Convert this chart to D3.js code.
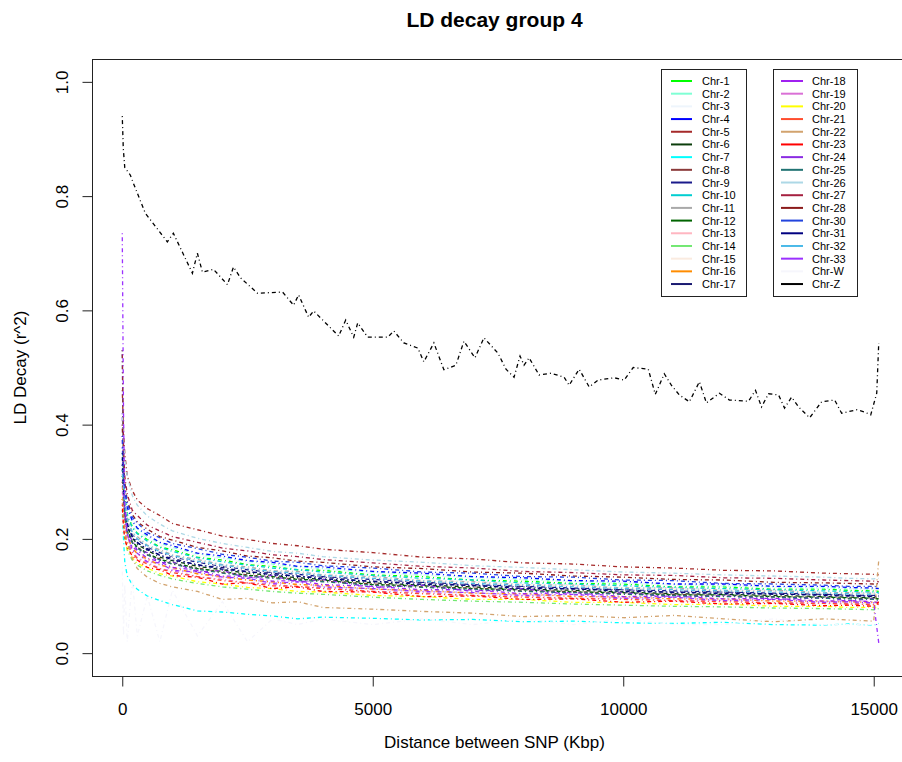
<!DOCTYPE html>
<html>
<head>
<meta charset="utf-8">
<script src="https://cdn.jsdelivr.net/npm/d3@7"></script>
<style>
  html, body { margin: 0; padding: 0; background: #fff; }
  text { font-family: "Liberation Sans", Arial, sans-serif; fill: #000; }
</style>
</head>
<body>
<svg id="chart" width="902" height="762"></svg>
<script>
// ---------------- DATA ----------------
const chartTitle = "LD decay group 4";
const xLabel = "Distance between SNP (Kbp)";
const yLabel = "LD Decay (r^2)";
const xTicks = [0, 5000, 10000, 15000];
const yTicks = [0, 0.2, 0.4, 0.6, 0.8, 1.0];
const yTickLabels = ["0.0", "0.2", "0.4", "0.6", "0.8", "1.0"];

// shared distance grid (Kbp) for chromosomes 1..33, W
const distanceKbp = [0, 25, 50, 100, 200, 300, 500, 750, 1000, 1500, 2000, 2500, 3000, 3500, 4000,
  5000, 6000, 7000, 8000, 9000, 10000, 11000, 12000, 13000, 14000, 14500, 15000, 15100];

const chr1  = [0.35,0.31,0.275,0.243,0.222,0.210,0.199,0.186,0.181,0.168,0.163,0.155,0.152,0.146,0.145,0.137,0.134,0.128,0.126,0.122,0.121,0.116,0.116,0.112,0.112,0.110,0.109,0.108];
const chr2  = [0.34,0.31,0.28,0.252,0.229,0.218,0.204,0.193,0.185,0.174,0.167,0.161,0.156,0.151,0.148,0.142,0.137,0.133,0.129,0.126,0.123,0.120,0.118,0.116,0.114,0.113,0.112,0.114];
const chr3  = [0.36,0.31,0.28,0.246,0.225,0.213,0.201,0.190,0.183,0.171,0.165,0.158,0.154,0.149,0.147,0.140,0.136,0.131,0.128,0.125,0.123,0.119,0.118,0.115,0.114,0.113,0.112,0.111];
const chr4  = [0.36,0.32,0.285,0.255,0.232,0.219,0.207,0.194,0.188,0.175,0.170,0.162,0.159,0.152,0.151,0.143,0.140,0.134,0.132,0.127,0.126,0.121,0.121,0.117,0.117,0.115,0.114,0.113];
const chr5  = [0.46,0.39,0.35,0.31,0.285,0.268,0.253,0.241,0.227,0.216,0.205,0.199,0.192,0.188,0.182,0.176,0.168,0.165,0.158,0.156,0.151,0.149,0.145,0.144,0.140,0.139,0.138,0.137];
const chr6  = [0.32,0.28,0.25,0.221,0.202,0.190,0.180,0.168,0.162,0.152,0.146,0.140,0.136,0.132,0.129,0.123,0.119,0.116,0.112,0.110,0.107,0.104,0.103,0.101,0.099,0.098,0.097,0.098];
const chr7  = [0.25,0.20,0.16,0.135,0.120,0.112,0.100,0.092,0.085,0.074,0.072,0.068,0.065,0.060,0.063,0.061,0.058,0.059,0.055,0.056,0.053,0.052,0.054,0.050,0.049,0.051,0.049,0.052];
const chr8  = [0.30,0.27,0.24,0.213,0.194,0.186,0.172,0.165,0.156,0.149,0.141,0.137,0.132,0.130,0.126,0.121,0.116,0.114,0.109,0.108,0.104,0.103,0.100,0.099,0.097,0.096,0.095,0.094];
const chr9  = [0.33,0.29,0.26,0.231,0.209,0.199,0.186,0.176,0.169,0.159,0.152,0.146,0.141,0.138,0.134,0.129,0.124,0.120,0.117,0.114,0.111,0.109,0.107,0.105,0.103,0.102,0.101,0.100];
const chr10 = [0.33,0.30,0.27,0.240,0.219,0.209,0.196,0.185,0.178,0.167,0.160,0.154,0.149,0.146,0.142,0.136,0.131,0.128,0.123,0.121,0.118,0.115,0.113,0.111,0.109,0.108,0.107,0.106];
const chr11 = [0.34,0.30,0.265,0.236,0.212,0.204,0.189,0.181,0.172,0.164,0.155,0.151,0.144,0.143,0.137,0.134,0.127,0.125,0.120,0.119,0.114,0.114,0.110,0.110,0.106,0.106,0.105,0.104];
const chr12 = [0.31,0.28,0.24,0.215,0.196,0.185,0.175,0.164,0.159,0.148,0.143,0.136,0.134,0.129,0.128,0.120,0.118,0.113,0.111,0.107,0.106,0.102,0.102,0.099,0.098,0.097,0.096,0.095];
const chr13 = [0.28,0.25,0.22,0.202,0.183,0.174,0.162,0.155,0.147,0.139,0.132,0.128,0.123,0.121,0.117,0.112,0.108,0.105,0.102,0.100,0.097,0.095,0.093,0.092,0.090,0.089,0.088,0.089];
const chr14 = [0.25,0.23,0.20,0.180,0.163,0.154,0.144,0.136,0.130,0.122,0.116,0.112,0.108,0.105,0.103,0.098,0.094,0.091,0.089,0.086,0.084,0.082,0.081,0.079,0.078,0.077,0.076,0.078];
const chr15 = [0.33,0.29,0.26,0.233,0.210,0.201,0.187,0.179,0.170,0.162,0.153,0.149,0.143,0.141,0.136,0.132,0.126,0.124,0.119,0.118,0.113,0.112,0.109,0.108,0.105,0.104,0.104,0.103];
const chr16 = [0.30,0.26,0.23,0.204,0.185,0.174,0.165,0.154,0.150,0.139,0.134,0.128,0.125,0.120,0.119,0.112,0.110,0.105,0.104,0.099,0.099,0.095,0.095,0.091,0.091,0.090,0.089,0.088];
const chr17 = [0.33,0.29,0.252,0.226,0.205,0.193,0.183,0.171,0.166,0.154,0.150,0.142,0.140,0.134,0.133,0.125,0.123,0.118,0.116,0.112,0.111,0.106,0.107,0.103,0.103,0.101,0.100,0.099];
const chr18 = [0.38,0.29,0.24,0.205,0.186,0.180,0.166,0.160,0.150,0.145,0.135,0.134,0.126,0.127,0.120,0.117,0.111,0.111,0.104,0.106,0.099,0.100,0.095,0.096,0.091,0.092,0.090,0.088];
const chr19 = [0.29,0.25,0.22,0.195,0.178,0.167,0.159,0.148,0.144,0.134,0.129,0.123,0.121,0.116,0.115,0.108,0.106,0.101,0.100,0.096,0.096,0.092,0.092,0.088,0.088,0.087,0.086,0.085];
const chr20 = [0.27,0.24,0.21,0.183,0.167,0.157,0.149,0.139,0.135,0.125,0.121,0.115,0.113,0.108,0.107,0.101,0.099,0.094,0.094,0.089,0.089,0.085,0.086,0.082,0.082,0.080,0.080,0.079];
const chr21 = [0.27,0.24,0.21,0.190,0.176,0.165,0.156,0.148,0.141,0.134,0.127,0.123,0.118,0.117,0.113,0.108,0.104,0.101,0.098,0.096,0.094,0.092,0.090,0.088,0.087,0.086,0.085,0.086];
const chr22 = [0.27,0.23,0.21,0.195,0.165,0.148,0.133,0.122,0.116,0.108,0.094,0.096,0.088,0.090,0.080,0.077,0.073,0.070,0.064,0.066,0.062,0.066,0.060,0.055,0.060,0.058,0.056,0.163];
const chr23 = [0.26,0.22,0.20,0.185,0.170,0.163,0.150,0.146,0.136,0.133,0.121,0.123,0.113,0.116,0.108,0.107,0.099,0.100,0.094,0.095,0.089,0.091,0.086,0.087,0.083,0.084,0.082,0.090];
const chr24 = [0.42,0.30,0.25,0.208,0.198,0.180,0.176,0.158,0.160,0.142,0.145,0.131,0.136,0.124,0.129,0.115,0.119,0.108,0.113,0.102,0.106,0.098,0.101,0.094,0.097,0.092,0.095,0.090];
const chr25 = [0.53,0.30,0.24,0.213,0.193,0.184,0.172,0.163,0.156,0.147,0.140,0.135,0.131,0.128,0.125,0.119,0.115,0.112,0.108,0.106,0.103,0.101,0.099,0.098,0.096,0.095,0.094,0.093];
const chr26 = [0.42,0.37,0.34,0.31,0.276,0.259,0.240,0.226,0.214,0.201,0.192,0.185,0.178,0.175,0.169,0.163,0.159,0.153,0.150,0.146,0.142,0.140,0.137,0.135,0.133,0.131,0.130,0.131];
const chr27 = [0.53,0.36,0.31,0.278,0.250,0.241,0.224,0.214,0.204,0.194,0.184,0.179,0.172,0.169,0.164,0.158,0.152,0.149,0.143,0.141,0.137,0.136,0.132,0.131,0.128,0.127,0.126,0.125];
const chr28 = [0.40,0.33,0.30,0.266,0.243,0.230,0.217,0.204,0.198,0.185,0.179,0.170,0.167,0.161,0.159,0.151,0.148,0.142,0.140,0.135,0.133,0.129,0.128,0.124,0.123,0.122,0.121,0.122];
const chr30 = [0.38,0.32,0.29,0.262,0.238,0.228,0.211,0.202,0.192,0.183,0.173,0.168,0.161,0.159,0.153,0.149,0.142,0.140,0.134,0.133,0.128,0.127,0.122,0.121,0.119,0.117,0.117,0.116];
const chr31 = [0.35,0.28,0.25,0.224,0.203,0.194,0.181,0.172,0.163,0.155,0.147,0.143,0.137,0.135,0.130,0.126,0.120,0.119,0.113,0.113,0.108,0.107,0.104,0.104,0.101,0.100,0.099,0.098];
const chr32 = [0.32,0.29,0.26,0.232,0.211,0.200,0.188,0.178,0.171,0.161,0.154,0.148,0.143,0.140,0.136,0.131,0.126,0.122,0.119,0.116,0.113,0.111,0.109,0.107,0.105,0.104,0.103,0.105];
const chr33 = [0.735,0.42,0.26,0.210,0.180,0.175,0.160,0.158,0.145,0.142,0.133,0.131,0.122,0.125,0.116,0.113,0.108,0.106,0.101,0.103,0.096,0.098,0.092,0.094,0.089,0.090,0.088,0.018];
const chrW  = [0.15,0.03,0.12,0.02,0.13,0.03,0.10,0.02,0.11,0.03,0.09,0.02,0.06,0.05,0.06,0.05,0.06,0.05,0.06,0.05,0.06,0.05,0.05,0.06,0.05,0.05,0.05,0.05];

// Chr-Z has its own distance points
const distanceZ = [0,20,50,160,220,460,900,1020,1400,1500,1600,1820,2100,2220,2360,2700,3200,3420,3520,3720,3820,
  4320,4460,4620,4700,4900,5300,5420,5620,5900,6020,6220,6420,6660,6820,7040,7220,7500,7660,7820,7940,8020,8120,
  8320,8560,8820,8920,9120,9320,9500,9820,10020,10200,10500,10640,10820,10960,11120,11320,11520,11660,11920,12120,
  12500,12640,12760,12900,13100,13220,13360,13500,13720,13960,14220,14360,14660,14820,14940,15060,15100];
const chrZ = [0.94,0.884,0.85,0.837,0.823,0.77,0.72,0.735,0.665,0.70,0.667,0.672,0.645,0.676,0.657,0.63,0.632,0.609,0.627,0.588,0.599,
  0.555,0.583,0.553,0.578,0.553,0.553,0.564,0.543,0.534,0.51,0.543,0.496,0.504,0.546,0.517,0.552,0.525,0.497,0.483,0.52,0.504,0.517,
  0.487,0.49,0.483,0.469,0.497,0.466,0.478,0.482,0.478,0.50,0.497,0.453,0.489,0.469,0.452,0.44,0.475,0.438,0.455,0.443,
  0.441,0.46,0.431,0.454,0.452,0.429,0.448,0.431,0.412,0.44,0.443,0.42,0.426,0.422,0.417,0.455,0.543];

const chrNames = ["Chr-1","Chr-2","Chr-3","Chr-4","Chr-5","Chr-6","Chr-7","Chr-8","Chr-9","Chr-10","Chr-11",
  "Chr-12","Chr-13","Chr-14","Chr-15","Chr-16","Chr-17","Chr-18","Chr-19","Chr-20","Chr-21","Chr-22","Chr-23",
  "Chr-24","Chr-25","Chr-26","Chr-27","Chr-28","Chr-30","Chr-31","Chr-32","Chr-33","Chr-W","Chr-Z"];
const chrColors = ["#00FF00","#7FFFD4","#EEF5FC","#0000FF","#A52A2A","#0B3D0B","#00FFFF","#8B3A3A","#1A1A8B","#00CED1","#A9A9A9",
  "#006400","#FFB6C1","#72E872","#FAEBE0","#FF8C00","#191970","#A020F0","#DA70D6","#FFFF00","#FF4D2E","#D2A36E","#FF0000",
  "#8A2BE2","#217373","#ADD8E6","#A52040","#8B1A1A","#2244DD","#000080","#4AB9E8","#9B30FF","#F6F6FC","#000000"];
const chrValues = [chr1,chr2,chr3,chr4,chr5,chr6,chr7,chr8,chr9,chr10,chr11,chr12,chr13,chr14,chr15,chr16,chr17,
  chr18,chr19,chr20,chr21,chr22,chr23,chr24,chr25,chr26,chr27,chr28,chr30,chr31,chr32,chr33,chrW];

// ---------------- CHART ----------------
const svg = d3.select("#chart");
const plot = { left: 92, top: 59, right: 909, bottom: 676 };

const x = d3.scaleLinear().domain([-604, 15704]).range([plot.left, plot.right]);
const y = d3.scaleLinear().domain([-0.04, 1.04]).range([plot.bottom, plot.top]);

svg.append("defs").append("clipPath").attr("id", "clip")
  .append("rect").attr("x", plot.left).attr("y", plot.top)
  .attr("width", plot.right - plot.left).attr("height", plot.bottom - plot.top);

const series = chrValues.map((vals, i) => ({
  name: chrNames[i], color: chrColors[i],
  points: vals.map((v, j) => [distanceKbp[j], v]).filter(p => p[0] !== undefined)
}));
series.push({ name: "Chr-Z", color: chrColors[33], points: chrZ.map((v, j) => [distanceZ[j], v]) });

const line = d3.line().x(d => x(d[0])).y(d => y(d[1]));

const g = svg.append("g").attr("clip-path", "url(#clip)");
g.selectAll("path.ld").data(series).join("path")
  .attr("class", "ld")
  .attr("d", d => line(d.points))
  .attr("fill", "none")
  .attr("stroke", d => d.color)
  .attr("stroke-width", 1.3)
  .attr("stroke-dasharray", "1 3 4 3");

// plot box
svg.append("rect")
  .attr("x", plot.left + 0.5).attr("y", plot.top + 0.5)
  .attr("width", plot.right - plot.left).attr("height", plot.bottom - plot.top)
  .attr("fill", "none").attr("stroke", "#222").attr("stroke-width", 1);

// x axis
const xAxis = d3.axisBottom(x).tickValues(xTicks).tickSize(10).tickSizeOuter(0).tickPadding(4)
  .tickFormat(d3.format("d"));
const xg = svg.append("g").attr("transform", `translate(0,${plot.bottom + 0.5})`).call(xAxis);
xg.select(".domain").remove();
xg.selectAll(".tick line").attr("stroke", "#222");
xg.selectAll(".tick text").attr("font-size", 17).attr("font-family", "Liberation Sans, Arial, sans-serif")
  .attr("y", 0).attr("dy", null).attr("transform", "translate(0,38)");

// y axis
const yAxis = d3.axisLeft(y).tickValues(yTicks).tickSize(10).tickSizeOuter(0)
  .tickFormat((d, i) => yTickLabels[i]);
const yg = svg.append("g").attr("transform", `translate(${plot.left + 0.5},0)`).call(yAxis);
yg.select(".domain").remove();
yg.selectAll(".tick line").attr("stroke", "#222");
yg.selectAll(".tick text").attr("font-size", 17).attr("font-family", "Liberation Sans, Arial, sans-serif")
  .attr("x", 0).attr("dy", null).attr("text-anchor", "middle")
  .attr("transform", "translate(-25,0) rotate(-90)");

// title & axis labels
svg.append("text").attr("x", (plot.left + plot.right) / 2 - 6).attr("y", 27)
  .attr("text-anchor", "middle").attr("font-size", 21).attr("font-weight", "bold").text(chartTitle);
svg.append("text").attr("x", (plot.left + plot.right) / 2 - 6).attr("y", 748)
  .attr("text-anchor", "middle").attr("font-size", 17).text(xLabel);
svg.append("text").attr("transform", `translate(26,${(plot.top + plot.bottom) / 2}) rotate(-90)`)
  .attr("text-anchor", "middle").attr("font-size", 17).text(yLabel);

// legends
const legendCols = [
  { box: [661, 69, 85, 227], lx0: 671, lx1: 692, tx: 702, items: series.slice(0, 17) },
  { box: [773, 69, 84, 227], lx0: 781, lx1: 803, tx: 812, items: series.slice(17) }
];
legendCols.forEach(col => {
  const lg = svg.append("g");
  lg.append("rect").attr("x", col.box[0] + 0.5).attr("y", col.box[1] + 0.5)
    .attr("width", col.box[2]).attr("height", col.box[3])
    .attr("fill", "#fff").attr("stroke", "#222").attr("stroke-width", 1);
  col.items.forEach((s, i) => {
    const yy = 81 + i * 12.69;
    lg.append("line").attr("x1", col.lx0).attr("x2", col.lx1).attr("y1", yy).attr("y2", yy)
      .attr("stroke", s.color).attr("stroke-width", 2);
    lg.append("text").attr("x", col.tx).attr("y", yy + 4).attr("font-size", 11).text(s.name);
  });
});
</script>
</body>
</html>
